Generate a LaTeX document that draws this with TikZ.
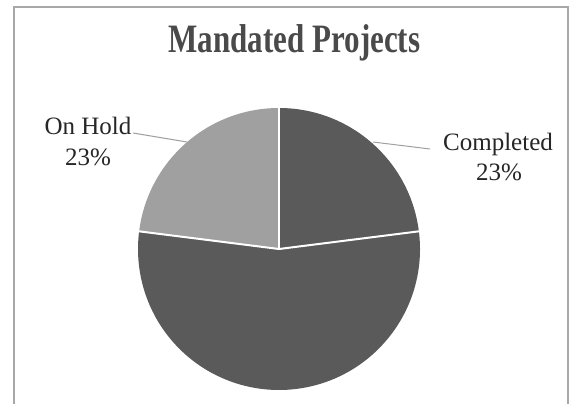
\documentclass[tikz,border=0pt]{standalone}
\usepackage{fontspec}
\setmainfont{Liberation Serif}
\definecolor{darkslice}{HTML}{5A5A5A}
\definecolor{lightslice}{HTML}{A0A0A0}
\definecolor{framegray}{HTML}{A8A8A8}
\definecolor{leadergray}{HTML}{A0A0A0}
\definecolor{titlegray}{HTML}{4A4A4A}
\begin{document}
\begin{tikzpicture}[x=1pt,y=-1pt,
  slicesep/.style={draw=white,line width=2pt},
  leader/.style={draw=leadergray,line width=1pt},
  lbl/.style={font=\fontsize{25}{30}\selectfont,text=black!85,align=center,inner sep=0pt,anchor=base},
  ttl/.style={font=\fontsize{31}{36}\bfseries\selectfont,text=titlegray,inner sep=0pt,anchor=base,yscale=1.3}]
\useasboundingbox (0,0) rectangle (574,404);
\fill[white] (0,0) rectangle (574,404);
% frame
\draw[framegray,line width=1.5pt] (14,404) -- (14,7) -- (568,7) -- (568,404);
% title
\node[ttl] (title) at (294.5,53) {Mandated Projects};
% pie
\coordinate (c) at (279,249);
\def\R{141}
\fill[darkslice] (c) -- ++(-90:\R) arc[start angle=-90,end angle=-7.2,radius=\R] -- cycle;
\fill[darkslice] (c) -- ++(-7.2:\R) arc[start angle=-7.2,end angle=187.2,radius=\R] -- cycle;
\fill[lightslice] (c) -- ++(-172.8:\R) arc[start angle=-172.8,end angle=-90,radius=\R] -- cycle;
\path (c) ++(-90:142) coordinate (b1);
\path (c) ++(-7.2:142) coordinate (b2);
\path (c) ++(-172.8:142) coordinate (b3);
\draw[slicesep] (c) -- (b1);
\draw[slicesep] (c) -- (b2);
\draw[slicesep] (c) -- (b3);
% labels
\node[lbl] (hold) at (88,135) {On Hold};
\node[lbl] (holdp) at (88,165) {23\%};
\node[lbl] (comp) at (498,150) {Completed};
\node[lbl] (compp) at (499,180) {23\%};
% leaders
\coordinate (h1) at (133,133);
\coordinate (h2) at (187,142);
\coordinate (c1) at (373,142);
\coordinate (c2) at (430,149);
\draw[leader] (h1) -- (h2);
\draw[leader] (c1) -- (c2);
\end{tikzpicture}
\end{document}
